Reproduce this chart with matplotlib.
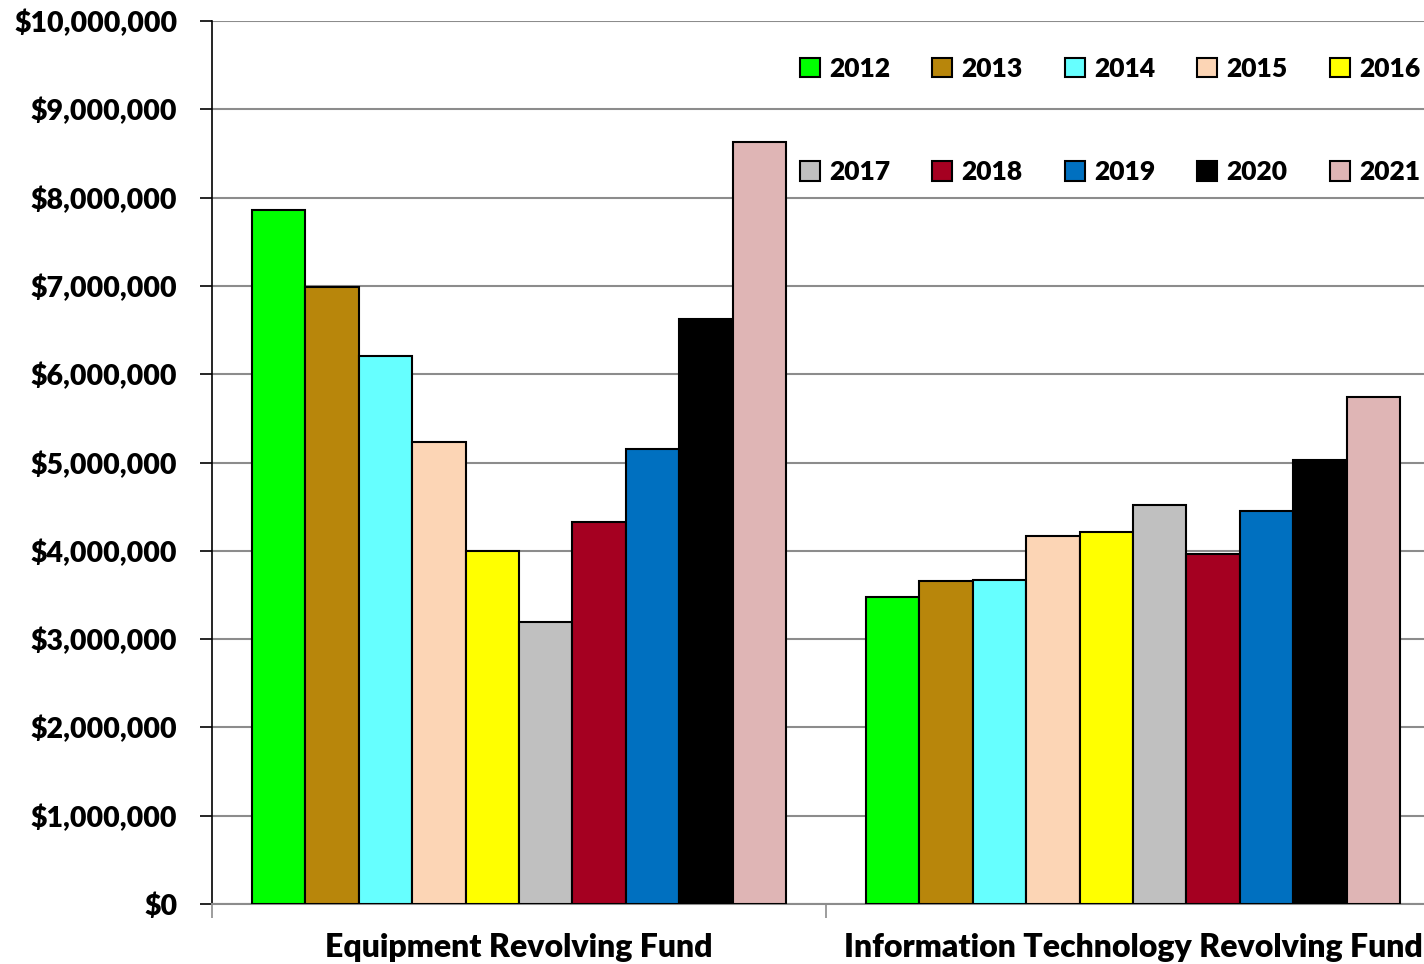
import numpy as np
import matplotlib.pyplot as plt
from matplotlib.ticker import FuncFormatter, FixedLocator

# Fund balances by fiscal year
funds = ['Equipment Revolving Fund', 'Information Technology Revolving Fund']
years = ['2012', '2013', '2014', '2015', '2016', '2017', '2018', '2019', '2020', '2021']
equipment = [7860000, 6990000, 6210000, 5230000, 4000000, 3190000, 4330000, 5150000, 6630000, 8630000]
info_tech = [3480000, 3660000, 3670000, 4170000, 4210000, 4520000, 3960000, 4450000, 5030000, 5740000]
colors = ['#00FF00', '#B8860B', '#66FFFF', '#FCD5B5', '#FFFF00',
          '#C0C0C0', '#A50021', '#0070C0', '#000000', '#DFB5B5']

plt.rcParams['font.family'] = ['Lato', 'DejaVu Sans']
plt.rcParams['font.weight'] = 'heavy'

fig = plt.figure(figsize=(14.24, 9.64), dpi=100)
ax = fig.add_axes([212 / 1424, 1 - 904 / 964, 1228 / 1424, 883 / 964])

x = np.arange(len(funds))
w = 0.087
handles = []
for i, yr in enumerate(years):
    vals = [equipment[i], info_tech[i]]
    b = ax.bar(x + (i - 4.5) * w, vals, width=w, color=colors[i],
               edgecolor='black', linewidth=1.5, label=yr, zorder=3)
    handles.append(b)

ax.set_xlim(-0.5, 1.5)
ax.set_ylim(0, 10000000)
ax.set_yticks(np.arange(0, 10000001, 1000000))
ax.yaxis.set_major_formatter(FuncFormatter(lambda v, p: '${:,.0f}'.format(v)))
ax.yaxis.grid(True, color='#8C8C8C', linewidth=1.5, zorder=0)
ax.set_axisbelow(True)

ax.set_xticks(x)
ax.set_xticklabels(funds)
ax.xaxis.set_minor_locator(FixedLocator([-0.5, 0.5, 1.5]))
ax.tick_params(axis='x', which='major', length=0, pad=21, labelsize=23)
ax.tick_params(axis='x', which='minor', length=10, color='#8C8C8C', width=1.2)
ax.tick_params(axis='y', length=9, width=1.2, color='black', pad=16, labelsize=20.5)

for s in ['top', 'right']:
    ax.spines[s].set_visible(False)
ax.spines['left'].set_color('black')
ax.spines['left'].set_linewidth(1.2)
ax.spines['bottom'].set_color('#8C8C8C')
ax.spines['bottom'].set_linewidth(1.5)

# two rows of five, filled column by column
order = []
for c in range(5):
    order += [c, c + 5]
leg = fig.legend([handles[k] for k in order], [years[k] for k in order],
                 ncol=5, loc='upper left', bbox_to_anchor=(800 / 1424, 1 - 57 / 964),
                 frameon=False, fontsize=19, handlelength=0.75, handleheight=0.75,
                 handletextpad=0.35, columnspacing=1.6, labelspacing=3.0,
                 borderaxespad=0, borderpad=0)

fig.savefig('out.png', dpi=100)
